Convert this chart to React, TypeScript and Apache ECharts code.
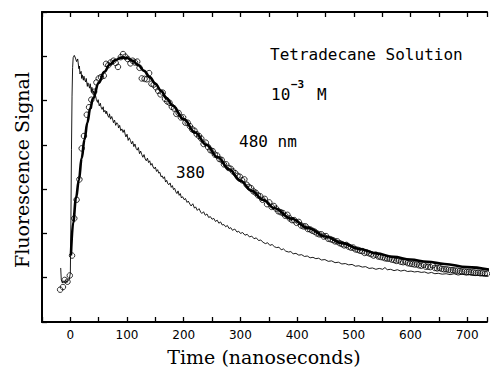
import React, { useEffect, useRef } from "react";
import * as echarts from "echarts";

// Time axis ticks (ns)
const xMin = -50;
const xMax = 735;
const xStep = 50;

// 480 nm fitted curve [time ns, signal]
const fit480: [number, number][] = [
  [1, 1.5], [5, 2.25], [10, 2.8], [15, 3.2], [20, 3.7], [25, 4.12], [30, 4.5], [35, 4.82],
  [40, 5.05], [50, 5.4], [60, 5.65], [70, 5.82], [80, 5.92], [90, 5.97], [100, 5.96],
  [110, 5.9], [120, 5.8], [130, 5.67], [140, 5.53], [150, 5.38], [160, 5.22], [170, 5.05],
  [180, 4.89], [200, 4.58], [220, 4.28], [240, 4.0], [260, 3.72], [280, 3.45], [300, 3.19],
  [320, 2.96], [340, 2.76], [360, 2.57], [390, 2.33], [420, 2.12], [450, 1.93], [480, 1.78],
  [510, 1.65], [540, 1.55], [570, 1.47], [600, 1.41], [630, 1.36], [660, 1.31], [700, 1.24],
  [740, 1.18],
];

// 480 nm measured points (circles)
const points480: [number, number][] = [
  [-18, 0.73], [-13, 0.79], [-10, 0.95], [-5, 0.91], [-1, 1.05], [3, 1.5], [7, 2.34], [11, 2.76],
  [16, 3.22], [20, 3.92], [24, 4.2], [29, 4.68], [33, 4.85], [37, 5.02], [42, 5.2], [46, 5.41],
  [50, 5.5], [54, 5.53], [59, 5.56], [63, 5.83], [67, 5.8], [71, 5.86], [76, 5.9], [80, 5.85],
  [84, 5.76], [89, 5.98], [93, 6.05], [97, 5.99], [101, 5.94], [106, 5.84], [110, 5.9], [114, 5.86],
  [118, 5.88], [122, 5.74], [126, 5.5], [131, 5.49], [135, 5.48], [139, 5.62], [143, 5.38],
  [147, 5.36], [151, 5.3], [155, 5.22], [159, 5.14], [163, 5.18], [167, 5.04], [171, 4.98],
  [175, 4.95], [179, 4.86], [183, 4.82], [187, 4.7], [191, 4.72], [195, 4.62], [199, 4.62],
  [203, 4.5], [207, 4.5], [211, 4.42], [215, 4.35], [219, 4.32], [223, 4.24], [227, 4.2],
  [231, 4.14], [235, 4.02], [239, 4.05], [243, 3.95], [247, 3.88], [251, 3.86], [255, 3.78],
  [259, 3.76], [263, 3.68], [267, 3.66], [271, 3.56], [275, 3.56], [279, 3.48], [283, 3.46],
  [287, 3.4], [291, 3.36], [295, 3.3], [299, 3.28], [303, 3.2], [307, 3.22], [311, 3.1],
  [315, 3.05], [319, 3.02], [323, 2.95], [327, 2.92], [331, 2.86], [335, 2.84], [339, 2.76],
  [343, 2.78], [347, 2.66], [351, 2.7], [355, 2.6], [359, 2.62], [363, 2.56], [367, 2.5],
  [371, 2.48], [375, 2.46], [379, 2.4], [383, 2.42], [387, 2.34], [391, 2.3], [395, 2.3],
  [399, 2.24], [403, 2.26], [407, 2.18], [411, 2.16], [415, 2.16], [419, 2.1], [423, 2.09],
  [427, 2.06], [431, 2.04], [435, 2.0], [439, 1.98], [443, 1.98], [447, 1.93], [451, 1.94],
  [455, 1.88], [459, 1.87], [463, 1.85], [467, 1.82], [471, 1.82], [475, 1.78], [479, 1.76],
  [483, 1.73], [487, 1.74], [491, 1.7], [495, 1.68], [499, 1.68], [503, 1.64], [507, 1.63],
  [511, 1.61], [515, 1.6], [519, 1.56], [523, 1.57], [527, 1.55], [531, 1.53], [535, 1.5],
  [539, 1.52], [543, 1.48], [547, 1.47], [551, 1.46], [555, 1.44], [559, 1.43], [563, 1.43],
  [567, 1.41], [571, 1.4], [575, 1.38], [579, 1.39], [583, 1.36], [587, 1.35], [591, 1.36],
  [595, 1.33], [599, 1.32], [603, 1.31], [607, 1.3], [611, 1.3], [615, 1.28], [619, 1.27],
  [623, 1.29], [627, 1.25], [631, 1.25], [635, 1.24], [639, 1.28], [643, 1.22], [647, 1.21],
  [651, 1.22], [655, 1.2], [659, 1.19], [663, 1.19], [667, 1.18], [671, 1.17], [675, 1.17],
  [679, 1.16], [683, 1.16], [687, 1.15], [691, 1.14], [695, 1.14], [699, 1.13], [703, 1.13],
  [707, 1.12], [711, 1.12], [715, 1.11], [719, 1.11], [723, 1.1], [727, 1.1], [731, 1.09],
  [735, 1.09],
];

// 380 nm trace
const trace380: [number, number][] = [
  [-17, 1.22], [-16, 0.95], [-14, 0.88], [-12, 0.93], [-10, 0.9], [-8, 0.94], [-6, 0.89],
  [-4, 0.93], [-2, 0.96], [0, 1.1], [1, 2.3], [2, 3.9], [3, 5.1], [4, 5.75], [5, 5.97],
  [7, 6.02], [9, 5.96], [11, 5.88], [13, 5.94], [15, 5.72], [16, 5.78], [17, 5.6], [19, 5.66],
  [20, 5.5], [21, 5.58], [23, 5.46], [24, 5.55], [25, 5.48], [27, 5.42], [28, 5.5], [30, 5.32],
  [31, 5.4], [32, 5.36], [34, 5.28], [35, 5.38], [37, 5.2], [38, 5.3], [40, 5.16], [41, 5.22],
  [43, 5.06], [44, 5.14], [46, 5.02], [48, 4.96], [49, 5.02], [51, 4.88], [53, 4.94], [54, 4.86],
  [56, 4.8], [58, 4.86], [59, 4.74], [61, 4.78], [63, 4.7], [64, 4.76], [66, 4.66], [68, 4.62],
  [69, 4.7], [71, 4.58], [73, 4.64], [75, 4.56], [76, 4.5], [78, 4.56], [80, 4.44], [82, 4.5],
  [84, 4.46], [85, 4.38], [87, 4.44], [89, 4.32], [91, 4.36], [93, 4.28], [95, 4.34], [97, 4.22],
  [98, 4.18], [100, 4.24], [102, 4.1], [104, 4.16], [106, 4.1], [108, 4.02], [110, 4.08],
  [112, 3.96], [114, 4.02], [116, 3.92], [118, 3.88], [120, 3.94], [122, 3.8], [124, 3.86],
  [126, 3.78], [128, 3.72], [130, 3.78], [132, 3.68], [134, 3.64], [136, 3.7], [138, 3.6],
  [140, 3.64], [142, 3.54], [144, 3.58], [146, 3.5], [148, 3.46], [150, 3.5], [152, 3.4],
  [154, 3.44], [156, 3.36], [158, 3.38], [160, 3.28], [162, 3.3], [164, 3.24], [166, 3.28],
  [168, 3.16], [170, 3.2], [172, 3.12], [174, 3.1], [176, 3.14], [178, 3.04], [180, 3.08],
  [182, 2.99], [184, 3.02], [186, 2.94], [188, 2.9], [190, 2.96], [192, 2.86], [194, 2.9],
  [196, 2.8], [198, 2.83], [201, 2.76], [203, 2.79], [206, 2.7], [208, 2.73], [211, 2.66],
  [213, 2.62], [216, 2.67], [219, 2.57], [221, 2.6], [224, 2.52], [227, 2.56], [230, 2.48],
  [232, 2.45], [235, 2.49], [238, 2.41], [241, 2.44], [244, 2.36], [247, 2.38], [250, 2.32],
  [253, 2.34], [256, 2.27], [259, 2.3], [262, 2.23], [265, 2.26], [268, 2.19], [271, 2.2],
  [274, 2.15], [277, 2.18], [280, 2.11], [283, 2.13], [286, 2.07], [290, 2.1], [294, 2.03],
  [297, 2.05], [300, 2.0], [304, 2.02], [308, 1.96], [312, 1.98], [316, 1.92], [320, 1.94],
  [324, 1.88], [328, 1.9], [332, 1.84], [336, 1.85], [340, 1.8], [344, 1.77], [348, 1.79],
  [352, 1.73], [356, 1.75], [360, 1.7], [364, 1.68], [368, 1.69], [372, 1.63], [376, 1.65],
  [380, 1.6], [385, 1.58], [389, 1.59], [393, 1.54], [398, 1.55], [403, 1.51], [408, 1.52],
  [413, 1.48], [418, 1.49], [423, 1.45], [428, 1.46], [433, 1.43], [438, 1.44], [443, 1.4],
  [449, 1.41], [455, 1.37], [461, 1.38], [467, 1.34], [473, 1.35], [479, 1.31], [485, 1.32],
  [491, 1.29], [497, 1.3], [503, 1.26], [509, 1.27], [515, 1.24], [521, 1.25], [527, 1.21],
  [533, 1.22], [539, 1.19], [545, 1.21], [551, 1.19], [555, 1.23], [559, 1.18], [565, 1.19],
  [571, 1.16], [577, 1.18], [583, 1.15], [589, 1.17], [595, 1.14], [601, 1.15], [607, 1.13],
  [613, 1.14], [619, 1.12], [625, 1.13], [631, 1.1], [637, 1.12], [643, 1.09], [649, 1.1],
  [656, 1.08], [663, 1.09], [670, 1.07], [677, 1.09], [684, 1.06], [691, 1.08], [698, 1.06],
  [705, 1.07], [712, 1.05], [719, 1.06], [726, 1.05], [733, 1.05], [740, 1.04],
];

const labelFormatter = (v: number) => (v >= 0 && v % 100 === 0 ? String(v) : "");

export default function App() {
  const ref = useRef<HTMLDivElement>(null);
  useEffect(() => {
    if (!ref.current) return;
    const chart = echarts.init(ref.current, undefined, { renderer: "svg" });
    const axisLine = { show: true, onZero: false, lineStyle: { color: "#000", width: 2 } };
    const axisTick = { show: true, inside: true, length: 5, lineStyle: { color: "#000", width: 1.3 } };
    const serif = "DejaVu Serif";
    const mono = "DejaVu Sans Mono";
    chart.setOption({
      animation: false,
      backgroundColor: "#fff",
      grid: { left: 42, right: 0, top: 12, bottom: 45, containLabel: false },
      xAxis: [
        {
          type: "value", min: xMin, max: xMax, interval: xStep, position: "bottom",
          axisLine, axisTick, splitLine: { show: false },
          axisLabel: { formatter: labelFormatter, color: "#000", fontSize: 12, fontFamily: "DejaVu Sans", margin: 7 },
        },
        {
          type: "value", min: xMin, max: xMax, interval: xStep, position: "top",
          axisLine, axisTick, splitLine: { show: false }, axisLabel: { show: false },
        },
      ],
      yAxis: {
        type: "value", min: 0, max: 7, interval: 1, position: "left",
        axisLine, axisTick, splitLine: { show: false }, axisLabel: { show: false },
      },
      series: [
        {
          type: "line", data: trace380, showSymbol: false, symbol: "none",
          lineStyle: { color: "#000", width: 0.9 }, z: 2,
        },
        {
          type: "scatter", data: points480, symbol: "circle", symbolSize: 5.5,
          itemStyle: { color: "rgba(255,255,255,0)", borderColor: "#000", borderWidth: 1 }, z: 3,
        },
        {
          type: "line", data: fit480, showSymbol: false, symbol: "none", smooth: 0.4, smoothMonotone: "x",
          lineStyle: { color: "#000", width: 2.6 }, z: 4,
        },
      ],
      graphic: [
        { type: "text", x: 264, y: 357, style: { text: "Time (nanoseconds)", font: `19px "${serif}"`, fill: "#000", textAlign: "center", textVerticalAlign: "middle" } },
        { type: "text", x: 22, y: 170, rotation: Math.PI / 2, style: { text: "Fluorescence Signal", font: `19px "${serif}"`, fill: "#000", textAlign: "center", textVerticalAlign: "middle" } },
        { type: "text", x: 270, y: 54, style: { text: "Tetradecane Solution", font: `16px "${mono}"`, fill: "#000", textAlign: "left", textVerticalAlign: "middle" } },
        { type: "text", x: 271, y: 94, style: { text: "10", font: `16px "${mono}"`, fill: "#000", textAlign: "left", textVerticalAlign: "middle" } },
        { type: "text", x: 291, y: 84, style: { text: "−3", font: `bold 11px "${mono}"`, fill: "#000", textAlign: "left", textVerticalAlign: "middle" } },
        { type: "text", x: 317, y: 94, style: { text: "M", font: `16px "${mono}"`, fill: "#000", textAlign: "left", textVerticalAlign: "middle" } },
        { type: "text", x: 239, y: 141, style: { text: "480 nm", font: `16px "${mono}"`, fill: "#000", textAlign: "left", textVerticalAlign: "middle" } },
        { type: "text", x: 176, y: 172, style: { text: "380", font: `16px "${mono}"`, fill: "#000", textAlign: "left", textVerticalAlign: "middle" } },
      ],
    });
    return () => chart.dispose();
  }, []);
  return <div ref={ref} style={{ position: "absolute", left: 0, top: 0, width: 490, height: 367 }} />;
}
